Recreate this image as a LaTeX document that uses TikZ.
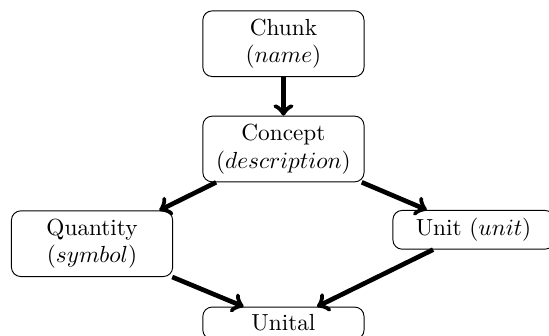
\documentclass[tikz,border=0pt]{standalone}
\usepackage{amsmath,amssymb}
\usepackage{tikz}
\usetikzlibrary{arrows}
\tikzset{arrow/.style={->, line width=2pt}}
\tikzset{box/.style={draw, rounded corners, text width=2.2cm, align=center}}

\begin{document}
\begin{tikzpicture}
    \clip (-4.28, -2.81) rectangle (4.01, 2.25);
    \node[box] (Ch) at (0, 1.59) {Chunk\\$(name)$};
    \node[box] (Co) at (0, 0) {Concept\\$(description)$};
    \node[box] (Q) at (-2.89, -1.43) {Quantity\\$(symbol)$};
    \node[box] (U) at (2.87, -1.22) {Unit $(unit)$};
    \node[box] (Ul) at (0, -2.63) {Unital};
    \draw[arrow] (Ch) -- (Co);
    \draw[arrow] (Co) -- (Q);
    \draw[arrow] (Co) -- (U);
    \draw[arrow] (Q) -- (Ul);
    \draw[arrow] (U) -- (Ul);
  \end{tikzpicture}
\end{document}
